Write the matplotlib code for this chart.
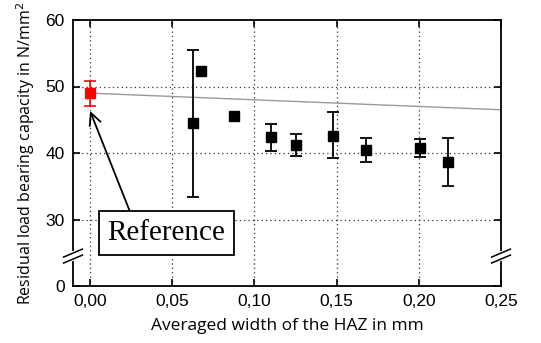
import matplotlib
matplotlib.use("Agg")
import matplotlib.pyplot as plt
import numpy as np

# reference point (red)
ref_x = [0.0]
ref_y = [49.0]
ref_lo = [47.1]
ref_hi = [50.8]

# measured points with scatter
haz_x = [0.0626, 0.110, 0.125, 0.148, 0.168, 0.2006, 0.218]
cap_y = [44.5, 42.4, 41.2, 42.6, 40.5, 40.8, 38.6]
cap_lo = [33.4, 40.3, 39.6, 39.2, 38.6, 39.4, 35.1]
cap_hi = [55.5, 44.4, 42.9, 46.1, 42.3, 42.1, 42.2]

# single measurements (no error bar)
single_x = [0.0677, 0.0876]
single_y = [52.3, 45.6]

# gray reference trend line
trend_x = [0.0, 0.25]
trend_y = [49.0, 46.5]

# broken axis: value 0 is drawn at position 20
yticks = [20, 30, 40, 50, 60]
ytick_labels = ["0", "30", "40", "50", "60"]
xticks = [0.0, 0.05, 0.10, 0.15, 0.20, 0.25]
xtick_labels = ["0,00", "0,05", "0,10", "0,15", "0,20", "0,25"]
BREAK_AT = 24.5

plt.rcParams["font.family"] = ["Liberation Sans", "DejaVu Sans"]

fig = plt.figure(figsize=(5.41, 3.43), dpi=100)
ax = fig.add_axes([73 / 541, 1 - 286 / 343, (501 - 73) / 541, (286 - 20) / 343])

ax.set_xlim(-0.0104, 0.25)
ax.set_ylim(20, 60)

for x in xticks[:-1]:
    ax.axvline(x, color="#333333", lw=0.9, ls=(0, (1, 2.5)), zorder=0)
for y in [30, 40, 50]:
    ax.axhline(y, color="#333333", lw=0.9, ls=(0, (1, 2.5)), zorder=0)

ax.plot(trend_x, trend_y, color="#999999", lw=1.0, zorder=1)

yerr = [np.array(cap_y) - np.array(cap_lo), np.array(cap_hi) - np.array(cap_y)]
ax.errorbar(haz_x, cap_y, yerr=yerr, fmt="s", color="black", ms=6.5,
            ecolor="#111111", elinewidth=1.4, capsize=4, capthick=1.4, zorder=3)
ax.plot(single_x, single_y, "s", color="black", ms=6.5, zorder=3)
rerr = [np.array(ref_y) - np.array(ref_lo), np.array(ref_hi) - np.array(ref_y)]
ax.errorbar(ref_x, ref_y, yerr=rerr, fmt="s", color="red", ms=6.5,
            ecolor="red", elinewidth=1.2, capsize=4, capthick=1.2, zorder=3)

ax.set_xticks(xticks)
ax.set_xticklabels(xtick_labels)
ax.set_yticks(yticks)
ax.set_yticklabels(ytick_labels)
ax.tick_params(direction="in", length=5, width=1.2, top=True, right=True,
               labelsize=12.5, pad=6)
for s in ax.spines.values():
    s.set_linewidth(1.3)

# axis break marks on both spines
for xa in (0, 1):
    ax.plot([xa, xa], [BREAK_AT - 0.45, BREAK_AT + 0.45], color="white", lw=3,
            transform=ax.get_yaxis_transform(), clip_on=False, zorder=5)
    for dy in (-0.45, 0.45):
        ax.plot([xa - 0.022, xa + 0.022], [BREAK_AT + dy - 0.6, BREAK_AT + dy + 0.6],
                color="black", lw=1.1, transform=ax.get_yaxis_transform(),
                clip_on=False, zorder=6)

ax.set_xlabel("Averaged width of the HAZ in mm", fontsize=12.5,
              family=["Open Sans", "DejaVu Sans"], labelpad=6)
ax.set_ylabel("Residual load bearing capacity in N/mm$^2$", fontsize=11.5,
              family=["Open Sans", "DejaVu Sans"], labelpad=6)

ax.annotate("Reference", xy=(0.0, 46.3), xytext=(0.0463, 28.0),
            fontsize=21, family=["Liberation Serif", "DejaVu Serif"],
            ha="center", va="center",
            bbox=dict(boxstyle="square,pad=0.3", fc="white", ec="black", lw=1.3),
            arrowprops=dict(arrowstyle="->", color="black", lw=1.3,
                            shrinkA=0, shrinkB=0, relpos=(0.22, 1.0)),
            zorder=7)

fig.savefig("out.png", dpi=100)
